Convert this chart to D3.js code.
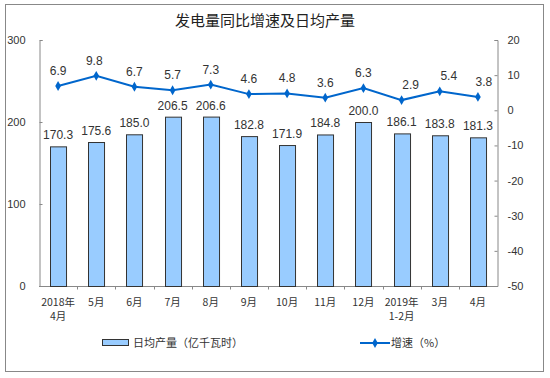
<!DOCTYPE html>
<html>
<head>
<meta charset="utf-8">
<script src="https://cdn.jsdelivr.net/npm/d3@7"></script>
<style>
  html, body { margin: 0; padding: 0; background: #fff; }
  svg { display: block; }
  .num { font-family: "Liberation Sans", Arial, sans-serif; }
  .cjk { font-family: "Noto Sans CJK SC", sans-serif; }
</style>
</head>
<body>
<div id="chart"></div>
<script>
const categories = ["2018年|4月", "5月", "6月", "7月", "8月", "9月", "10月", "11月", "12月", "2019年|1-2月", "3月", "4月"];
const dailyOutput = [170.3, 175.6, 185.0, 206.5, 206.6, 182.8, 171.9, 184.8, 200.0, 186.1, 183.8, 181.3];
const growth = [6.9, 9.8, 6.7, 5.7, 7.3, 4.6, 4.8, 3.6, 6.3, 2.9, 5.4, 3.8];
const leftTicks = [0, 100, 200, 300];
const rightTicks = [20, 10, 0, -10, -20, -30, -40, -50];

const width = 550;
const height = 378;
const margin = { top: 40, right: 53, bottom: 92, left: 39 };
const axisColor = "#888";
const textColor = "#333";
const barFill = "#99ccff";
const lineColor = "#0066cc";

const svg = d3.select("#chart").append("svg")
  .attr("width", width)
  .attr("height", height);

// frame
svg.append("rect")
  .attr("x", 5.5).attr("y", 4.5)
  .attr("width", 538).attr("height", 367)
  .attr("fill", "none")
  .attr("stroke", axisColor);

svg.append("text")
  .attr("class", "cjk")
  .attr("x", 265).attr("y", 26)
  .attr("text-anchor", "middle")
  .attr("font-size", 15)
  .attr("fill", "#222")
  .text("发电量同比增速及日均产量");

const x = d3.scaleBand()
  .domain(categories)
  .range([margin.left, width - margin.right])
  .paddingInner(0.58)
  .paddingOuter(0.29);

const y = d3.scaleLinear().domain([0, 300]).range([height - margin.bottom, margin.top]);
const y2 = d3.scaleLinear().domain([-50, 20]).range([height - margin.bottom, margin.top]);

// left axis
const gY = svg.append("g")
  .attr("transform", `translate(${margin.left + 0.5},0)`)
  .call(d3.axisRight(y).tickValues(leftTicks).tickSize(3).tickFormat((d) => String(d)))
  .call((g) => g.select(".domain").attr("stroke", axisColor))
  .call((g) => g.selectAll(".tick line").attr("stroke", axisColor));
gY.selectAll(".tick text")
  .attr("class", "num")
  .attr("x", -14)
  .attr("text-anchor", "end")
  .attr("font-size", 11)
  .attr("fill", textColor);

// right axis
const gY2 = svg.append("g")
  .attr("transform", `translate(${width - margin.right + 0.5},0)`)
  .call(d3.axisLeft(y2).tickValues(rightTicks).tickSize(3).tickFormat((d) => String(d)))
  .call((g) => g.select(".domain").attr("stroke", axisColor))
  .call((g) => g.selectAll(".tick line").attr("stroke", axisColor));
gY2.selectAll(".tick text")
  .attr("class", "num")
  .attr("x", 10)
  .attr("text-anchor", "start")
  .attr("font-size", 11)
  .attr("fill", textColor);

// bottom axis line + separators
const y0 = y(0) + 0.5;
svg.append("line")
  .attr("x1", margin.left).attr("x2", width - margin.right)
  .attr("y1", y0).attr("y2", y0)
  .attr("stroke", axisColor);
svg.append("g")
  .selectAll("line")
  .data(categories.slice(1))
  .join("line")
  .attr("x1", (d) => Math.round(x(d) - (x.step() - x.bandwidth()) / 2) + 0.5)
  .attr("x2", (d) => Math.round(x(d) - (x.step() - x.bandwidth()) / 2) + 0.5)
  .attr("y1", y0).attr("y2", y0 + 3)
  .attr("stroke", axisColor);

// x labels
svg.append("g")
  .selectAll("text")
  .data(categories)
  .join("text")
  .attr("class", "cjk")
  .attr("text-anchor", "middle")
  .attr("font-size", 10.5)
  .attr("fill", textColor)
  .attr("transform", (d) => `translate(${x(d) + x.bandwidth() / 2},306)`)
  .selectAll("tspan")
  .data((d) => d.split("|"))
  .join("tspan")
  .attr("x", 0)
  .attr("dy", (d, i) => (i === 0 ? 0 : 14))
  .text((d) => d);

// bars
svg.append("g")
  .selectAll("rect")
  .data(dailyOutput)
  .join("rect")
  .attr("x", (d, i) => Math.round(x(categories[i])) + 0.5)
  .attr("y", (d) => y(d) + 0.5)
  .attr("width", x.bandwidth())
  .attr("height", (d) => y(0) - y(d))
  .attr("fill", barFill)
  .attr("stroke", "#333")
  .attr("stroke-width", 1);

svg.append("g")
  .selectAll("text")
  .data(dailyOutput)
  .join("text")
  .attr("class", "num")
  .attr("text-anchor", "middle")
  .attr("font-size", 12)
  .attr("fill", textColor)
  .attr("x", (d, i) => x(categories[i]) + x.bandwidth() / 2)
  .attr("y", (d) => y(d) - 7)
  .text((d) => d3.format(".1f")(d));

// growth line
const cx = (i) => x(categories[i]) + x.bandwidth() / 2;
svg.append("path")
  .datum(growth)
  .attr("fill", "none")
  .attr("stroke", lineColor)
  .attr("stroke-width", 2)
  .attr("d", d3.line().x((d, i) => cx(i)).y((d) => y2(d)));

const diamond = d3.symbol().type(d3.symbolDiamond).size(28);
svg.append("g")
  .selectAll("path")
  .data(growth)
  .join("path")
  .attr("d", diamond)
  .attr("fill", lineColor)
  .attr("transform", (d, i) => `translate(${cx(i)},${y2(d)})`);

// the last few labels sit a bit right of their points in the original
const labelNudge = { 1: -2, 9: 9, 10: 9, 11: 6 };
svg.append("g")
  .selectAll("text")
  .data(growth)
  .join("text")
  .attr("class", "num")
  .attr("text-anchor", "middle")
  .attr("font-size", 12)
  .attr("fill", textColor)
  .attr("x", (d, i) => cx(i) + (labelNudge[i] || 0))
  .attr("y", (d) => y2(d) - 11)
  .text((d) => d3.format(".1f")(d));

// legend
const legend = svg.append("g").attr("class", "cjk").attr("font-size", 11).attr("fill", textColor);
legend.append("rect")
  .attr("x", 102.5).attr("y", 339.5)
  .attr("width", 26).attr("height", 6)
  .attr("fill", barFill)
  .attr("stroke", "#333");
legend.append("text")
  .attr("x", 133).attr("y", 347)
  .text("日均产量（亿千瓦时）");
legend.append("line")
  .attr("x1", 360).attr("x2", 390)
  .attr("y1", 343).attr("y2", 343)
  .attr("stroke", lineColor)
  .attr("stroke-width", 2);
legend.append("path")
  .attr("d", diamond)
  .attr("fill", lineColor)
  .attr("transform", "translate(375,343)");
legend.append("text")
  .attr("x", 391).attr("y", 347)
  .text("增速（%）");
</script>
</body>
</html>
